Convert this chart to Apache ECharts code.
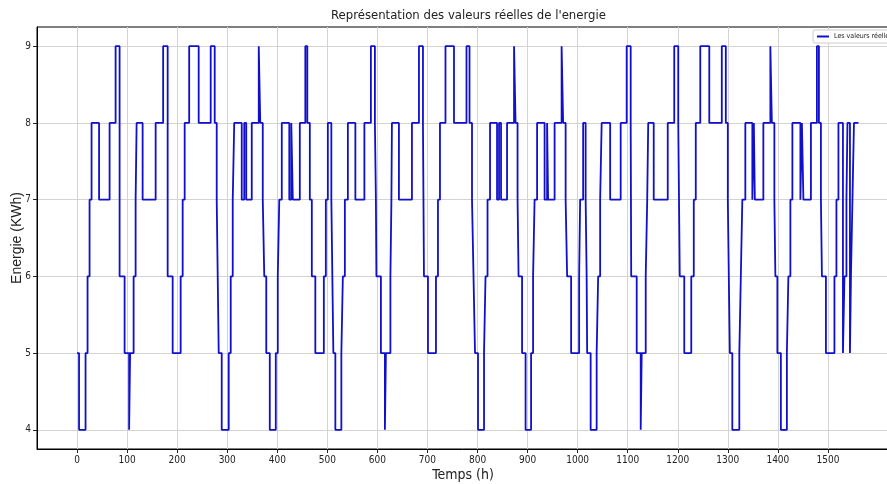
<!DOCTYPE html>
<html><head><meta charset="utf-8">
<script src="https://cdn.jsdelivr.net/npm/echarts@6/dist/echarts.min.js"></script>
<style>html,body{margin:0;padding:0;background:#fff}#c{width:887px;height:484px}</style>
</head><body><div id="c"></div>
<script>
// Hour at which each level starts (step series), and the level held from that hour
const changeHours = [0,4,17,21,25,29,44,65,77,85,95,104,106,113,117,119,131,157,172,181,191,207,211,215,224,243,267,275,279,281,283,289,303,307,311,314,329,334,338,349,363,366,371,374,378,385,397,401,404,409,424,428,431,445,456,460,465,469,476,493,497,501,508,510,512,516,528,531,535,541,556,574,587,595,597,598,607,615,617,626,628,629,643,669,683,691,693,701,717,721,725,736,753,778,784,789,792,795,801,813,816,820,825,839,843,847,859,873,876,880,882,889,896,907,911,914,919,934,939,941,954,968,971,976,979,987,1003,1005,1011,1016,1018,1019,1026,1038,1041,1045,1048,1065,1086,1098,1106,1107,1118,1126,1128,1136,1139,1141,1152,1180,1193,1201,1204,1213,1227,1232,1236,1245,1263,1288,1296,1300,1302,1304,1309,1323,1326,1329,1335,1349,1352,1354,1371,1385,1388,1393,1395,1399,1406,1418,1421,1425,1429,1445,1448,1451,1466,1478,1482,1486,1488,1496,1513,1517,1521,1530,1533,1537,1539,1544,1546,1549,1552,1561];
const levels = [5,4,5,6,7,8,7,8,9,6,5,4,5,6,7,8,7,8,9,6,5,6,7,8,9,8,9,8,7,6,5,4,5,6,7,8,7,8,7,8,9,8,7,6,5,4,5,6,7,8,7,8,7,8,9,8,7,6,5,6,7,8,7,6,5,4,5,6,7,8,7,8,9,8,7,6,5,4,5,6,7,8,7,8,9,8,6,5,6,7,8,9,8,9,8,7,6,5,4,5,6,7,8,7,8,7,8,9,8,7,6,5,4,5,6,7,8,7,8,7,8,9,8,7,6,5,6,7,8,7,6,5,4,5,6,7,8,7,8,9,8,6,5,4,5,6,7,8,7,8,9,8,6,5,6,7,8,9,8,9,8,7,6,5,4,5,6,7,8,7,8,7,8,9,8,7,6,5,4,5,6,7,8,7,8,7,8,9,8,7,6,5,6,7,8,5,6,7,8,5,6,7,8,8];
const xTickValues = [0,100,200,300,400,500,600,700,800,900,1000,1100,1200,1300,1400,1500];
const yTickValues = [4,5,6,7,8,9];
const seriesName = 'Les valeurs réelles';

const data = changeHours.map((h, i) => [h, levels[i]]);
const narrow = "'Liberation Sans Narrow','DejaVu Sans Condensed',sans-serif";
const chart = echarts.init(document.getElementById('c'), null, {renderer: 'canvas'});
chart.setOption({
  animation: false,
  backgroundColor: '#fff',
  title: {
    text: "Représentation des valeurs réelles de l'energie",
    left: 326, top: 4,
    textStyle: {fontFamily: narrow, fontSize: 13, fontWeight: 'normal', color: '#222'}
  },
  legend: {
    left: 813, top: 30, orient: 'vertical',
    backgroundColor: '#fff', borderColor: '#ccc', borderWidth: 1, borderRadius: 2,
    padding: [3, 4], itemWidth: 12, itemHeight: 2, itemGap: 2,
    icon: 'rect',
    textStyle: {fontFamily: narrow, fontSize: 7, color: '#222'},
    data: [seriesName]
  },
  grid: {left: 37, right: -2, top: 27, bottom: 35, show: true, borderColor: '#000', borderWidth: 1,
         outerBoundsMode: 'none', containLabel: false},
  xAxis: {
    type: 'value', min: -80, max: 1622,
    name: 'Temps (h)', nameLocation: 'middle', nameGap: 19, nameMoveOverlap: false,
    nameTextStyle: {fontFamily: narrow, fontSize: 14, color: '#222'},
    axisLine: {show: true, onZero: false, lineStyle: {color: '#000', width: 1}},
    axisTick: {show: true, length: 4, inside: false, customValues: xTickValues, lineStyle: {color: '#222'}},
    axisLabel: {customValues: xTickValues, formatter: v => String(v), fontFamily: narrow, fontSize: 10, color: '#222', margin: 6},
    splitLine: {show: true, lineStyle: {color: '#d3d3d3', width: 1}}
  },
  yAxis: {
    type: 'value', min: 3.75, max: 9.25,
    name: 'Energie (KWh)', nameLocation: 'middle', nameGap: 13, nameRotate: 90, nameMoveOverlap: false,
    nameTextStyle: {fontFamily: "'Liberation Sans',sans-serif", fontSize: 14, color: '#222'},
    axisLine: {show: true, onZero: false, lineStyle: {color: '#000', width: 1}},
    axisTick: {show: true, length: 4, inside: false, customValues: yTickValues, lineStyle: {color: '#222'}},
    axisLabel: {customValues: yTickValues, formatter: v => String(v), fontFamily: narrow, fontSize: 10, color: '#222', margin: 6},
    splitLine: {show: true, lineStyle: {color: '#d3d3d3', width: 1}}
  },
  series: [{
    name: seriesName, type: 'line', step: 'end', data: data,
    showSymbol: false, symbol: 'none',
    lineStyle: {color: '#1010cc', width: 1.8},
    itemStyle: {color: '#1010cc'}
  }]
});
</script></body></html>
